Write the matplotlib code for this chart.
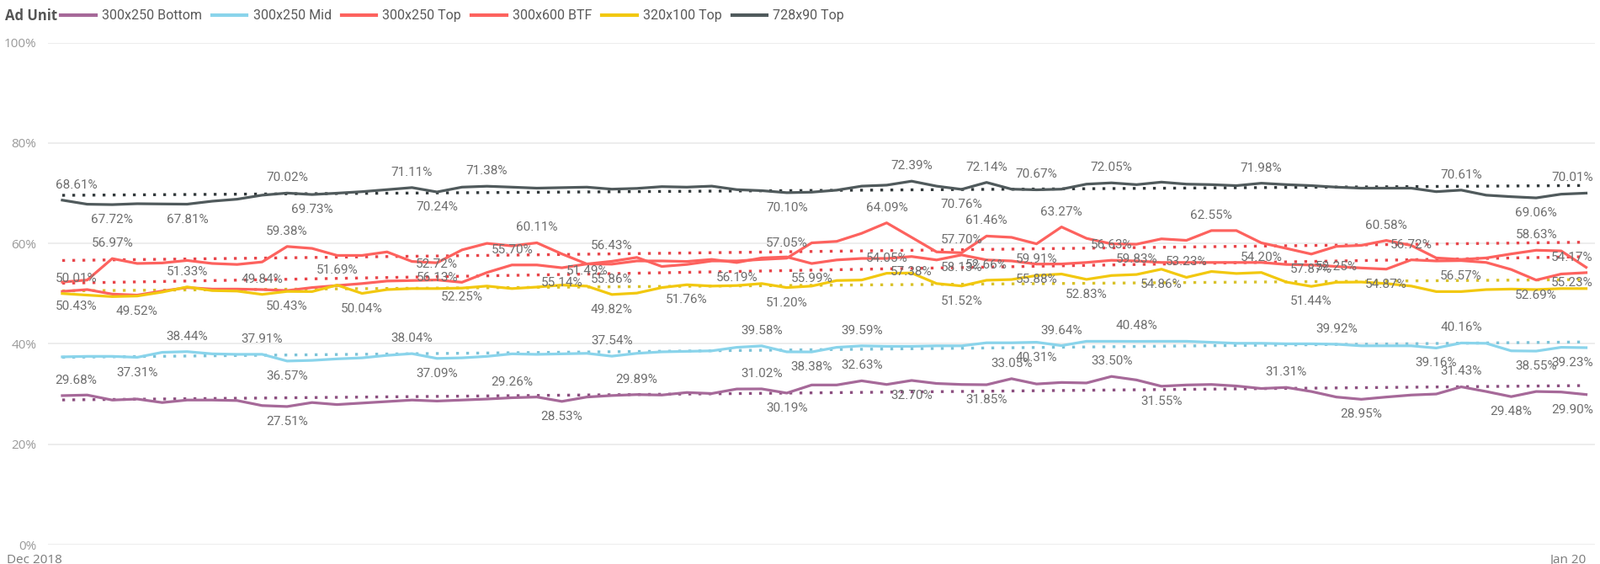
import matplotlib
matplotlib.use("Agg")
import matplotlib.pyplot as plt
import numpy as np

# daily share values (%) per ad unit
bottom_300x250 = [29.68, 29.8, 28.8, 29.0, 28.3, 28.8, 28.8, 28.7, 27.7, 27.51,
                  28.3, 27.9, 28.2, 28.5, 28.8, 28.6, 28.8, 29.0, 29.26, 29.4,
                  28.53, 29.4, 29.7, 29.89, 29.8, 30.3, 30.1, 31.0, 31.02, 30.19,
                  31.8, 31.8, 32.63, 31.9, 32.70, 32.1, 31.9, 31.85, 33.05, 32.0,
                  32.3, 32.2, 33.50, 32.8, 31.55, 31.8, 31.9, 31.6, 31.1, 31.31,
                  30.5, 29.4, 28.95, 29.4, 29.8, 30.0, 31.43, 30.5, 29.48, 30.5,
                  30.4, 29.90]
mid_300x250 = [37.4, 37.5, 37.5, 37.31, 38.3, 38.44, 38.0, 37.9, 37.91, 36.57,
               36.7, 37.0, 37.2, 37.7, 38.04, 37.09, 37.2, 37.5, 38.0, 37.9,
               38.0, 38.1, 37.54, 38.1, 38.4, 38.5, 38.6, 39.3, 39.58, 38.4,
               38.38, 39.3, 39.59, 39.5, 39.5, 39.6, 39.6, 40.2, 40.2, 40.31,
               39.64, 40.5, 40.5, 40.48, 40.5, 40.5, 40.3, 40.1, 40.1, 40.0,
               40.0, 39.92, 39.6, 39.6, 39.6, 39.16, 40.16, 40.1, 38.6, 38.55,
               39.3, 39.23]
top_300x250 = [52.3, 52.7, 56.97, 56.0, 56.1, 56.6, 56.0, 55.8, 56.3, 59.38,
               59.0, 57.6, 57.6, 58.3, 56.4, 56.13, 58.7, 60.0, 59.5, 60.11,
               57.9, 55.9, 56.43, 57.2, 55.4, 55.8, 56.5, 56.5, 56.8, 57.05,
               60.1, 60.4, 62.0, 64.09, 61.2, 58.3, 58.13, 61.46, 61.2, 59.91,
               63.27, 61.0, 59.9, 59.83, 60.9, 60.6, 62.55, 62.55, 60.1, 59.0,
               57.87, 59.4, 59.6, 60.58, 59.6, 57.1, 56.8, 57.1, 57.9, 58.63,
               58.5, 55.23]
btf_300x600 = [50.43, 50.8, 49.9, 49.7, 50.5, 51.2, 50.9, 50.9, 50.8, 50.6,
               51.2, 51.6, 52.0, 52.5, 52.6, 52.72, 52.25, 54.2, 55.70, 55.7,
               55.14, 55.9, 55.86, 56.5, 56.5, 56.4, 56.8, 56.19, 57.1, 57.3,
               55.99, 56.7, 57.0, 57.0, 57.38, 56.7, 57.70, 56.7, 56.5, 55.88,
               55.9, 56.2, 56.63, 56.5, 56.2, 56.2, 56.2, 56.2, 56.2, 55.8,
               55.7, 55.4, 55.1, 54.87, 56.72, 56.5, 56.57, 56.2, 54.8, 52.69,
               53.9, 54.17]
top_320x100 = [50.01, 49.7, 49.4, 49.52, 50.3, 51.33, 50.6, 50.5, 49.84, 50.43,
               50.4, 51.69, 50.04, 50.8, 51.0, 51.0, 51.1, 51.5, 51.0, 51.3,
               51.7, 51.49, 49.82, 50.1, 51.2, 51.76, 51.5, 51.6, 52.0, 51.20,
               51.5, 52.6, 52.7, 54.05, 54.1, 52.0, 51.52, 52.66, 52.8, 53.6,
               53.9, 52.83, 53.6, 53.8, 54.86, 53.23, 54.4, 54.0, 54.20, 52.3,
               51.44, 52.25, 52.3, 52.0, 51.5, 50.4, 50.4, 50.8, 50.9, 50.8,
               51.0, 51.0]
top_728x90 = [68.61, 67.8, 67.72, 67.9, 67.85, 67.81, 68.4, 68.8, 69.6, 70.02,
              69.73, 70.0, 70.3, 70.7, 71.11, 70.24, 71.2, 71.38, 71.2, 71.0,
              71.1, 71.2, 70.8, 70.95, 71.3, 71.2, 71.4, 70.7, 70.5, 70.10,
              70.2, 70.6, 71.4, 71.6, 72.39, 71.4, 70.76, 72.14, 70.8, 70.67,
              70.8, 71.8, 72.05, 71.7, 72.2, 71.8, 71.7, 71.5, 71.98, 71.7,
              71.5, 71.2, 71.0, 71.0, 71.0, 70.3, 70.61, 69.6, 69.3, 69.06,
              69.8, 70.01]

# which points carry a data label, and whether it sits above (1) or below (-1)
lab_bottom = [(0, 1), (9, -1), (18, 1), (20, -1), (23, 1), (28, 1), (29, -1), (32, 1), (34, -1),
              (37, -1), (38, 1), (42, 1), (44, -1), (49, 1), (52, -1), (56, 1), (58, -1), (61, -1)]
lab_mid = [(3, -1), (5, 1), (8, 1), (9, -1), (14, 1), (15, -1), (22, 1), (28, 1), (30, -1), (32, 1),
           (39, -1), (40, 1), (43, 1), (51, 1), (55, -1), (56, 1), (59, -1), (61, -1)]
lab_top = [(2, 1), (9, 1), (15, -1), (19, 1), (22, 1), (29, 1), (33, 1), (36, -1), (37, 1), (39, -1),
           (40, 1), (43, -1), (46, 1), (50, -1), (53, 1), (59, 1), (61, -1)]
lab_btf = [(0, -1), (15, 1), (16, -1), (18, 1), (20, -1), (22, -1), (27, -1), (30, -1), (34, -1),
           (36, 1), (39, -1), (42, 1), (53, -1), (54, 1), (56, -1), (59, -1), (61, 1)]
lab_320 = [(0, 1), (3, -1), (5, 1), (8, 1), (9, -1), (11, 1), (12, -1), (21, 1), (22, -1), (25, -1),
           (29, -1), (33, 1), (36, -1), (37, 1), (41, -1), (44, -1), (45, 1), (48, 1), (50, -1), (51, 1)]
lab_728 = [(0, 1), (2, -1), (5, -1), (9, 1), (10, -1), (14, 1), (15, -1), (17, 1), (29, -1), (34, 1),
           (36, -1), (37, 1), (39, 1), (42, 1), (48, 1), (56, 1), (59, -1), (61, 1)]

names = ["300x250 Bottom", "300x250 Mid", "300x250 Top", "300x600 BTF", "320x100 Top", "728x90 Top"]
values = [bottom_300x250, mid_300x250, top_300x250, btf_300x600, top_320x100, top_728x90]
labels = [lab_bottom, lab_mid, lab_top, lab_btf, lab_320, lab_728]
colors = ["#A66999", "#8AD4EB", "#FD625E", "#FD625E", "#F2C80F", "#505a5c"]
trend_colors = ["#8c4f80", "#7cc3d8", "#e8454a", "#e8454a", "#d9c22a", "#333a3c"]
x_labels = ["Dec 2018", "Jan 20"]

plt.rcParams["font.family"] = ["Roboto", "DejaVu Sans"]

fig = plt.figure(figsize=(19.01, 6.70), dpi=100)
ax = fig.add_axes([0.030, 0.0343, 0.9668, 0.8903])

x = np.arange(len(top_728x90))
last = len(x) - 1
for name, vals, labs, c, tc in zip(names, values, labels, colors, trend_colors):
    vals = np.array(vals)
    ax.plot(x, vals, color=c, lw=2.3, label=name, zorder=3, solid_joinstyle="round")
    k, b = np.polyfit(x, vals, 1)
    ax.plot(x, k * x + b, color=tc, lw=2.4, linestyle=(0, (1, 2.6)), zorder=2)
    for i, side in labs:
        dx = 12 if i == 0 else (-12 if i == last else 0)
        ax.annotate(f"{vals[i]:.2f}%", (x[i], vals[i]), xytext=(dx, 13 * side),
                    textcoords="offset points", ha="center", va="center",
                    fontsize=11, color="#6e6e6e", zorder=4)

ax.set_xlim(-0.57, 61.35)
ax.set_ylim(0, 100)
ax.set_yticks([0, 20, 40, 60, 80, 100])
ax.set_yticklabels([f"{v}%" for v in [0, 20, 40, 60, 80, 100]],
                   fontsize=11, color="#9a9a9a", family=["Open Sans", "DejaVu Sans"])
ax.set_xticks([0, 61])
ax.set_xticklabels(x_labels, fontsize=11, color="#7a7a7a", family=["Open Sans", "DejaVu Sans"])
for t in ax.get_xticklabels():
    t.set_ha("right")
ax.tick_params(axis="both", length=0)
ax.tick_params(axis="y", pad=10)
ax.tick_params(axis="x", pad=8)
ax.grid(axis="y", color="#ececec", lw=1.3)
ax.set_axisbelow(True)
for s in ax.spines.values():
    s.set_visible(False)

fig.text(0.003, 0.972, "Ad Unit", fontsize=12, fontweight="bold", color="#555555",
         ha="left", va="center", family=["Open Sans", "DejaVu Sans"])
leg = fig.legend(loc="center left", bbox_to_anchor=(0.038, 0.972), ncol=6, frameon=False,
                 fontsize=11.5, handlelength=2.6, handletextpad=0.45, columnspacing=0.75,
                 borderaxespad=0, borderpad=0)
for t in leg.get_texts():
    t.set_color("#5a5a5a")
for h in leg.get_lines():
    h.set_linewidth(3)

fig.savefig("out.png", dpi=100)
